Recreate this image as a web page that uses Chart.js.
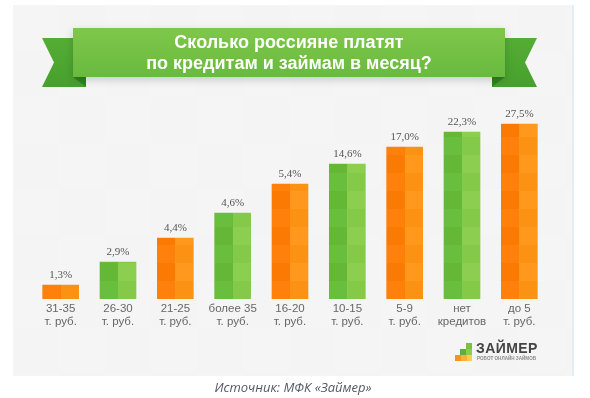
<!DOCTYPE html>
<html>
<head>
<meta charset="utf-8">
<script src="https://cdn.jsdelivr.net/npm/chart.js@4/dist/chart.umd.min.js"></script>
<style>
  html, body { margin: 0; padding: 0; background: #ffffff; }
  #wrap { position: relative; width: 590px; height: 398px; overflow: hidden; }
  #chart { position: absolute; left: 0; top: 0; }
  #title {
    position: absolute; left: 73px; top: 28px; width: 432px; height: 49px;
    display: flex; align-items: center; justify-content: center; text-align: center;
    font: bold 18px "Liberation Sans", Arial, sans-serif; line-height: 21px; color: #ffffff;
  }
  #logo { position: absolute; left: 476px; top: 340px; color: #444; font: bold 14px "Liberation Sans", Arial, sans-serif; letter-spacing: 0.4px; }
  #logosub { position: absolute; left: 477px; top: 356px; color: #8a8a8a; font: bold 4.6px "Liberation Sans", Arial, sans-serif; white-space: nowrap; }
  #caption {
    position: absolute; left: 0; width: 586px; top: 378px; text-align: center;
    font: italic 13px "Open Sans", "Liberation Sans", sans-serif; color: #555a66;
  }
</style>
</head>
<body>
<div id="wrap">
  <canvas id="chart" width="590" height="398"></canvas>
  <div id="title">Сколько россияне платят<br>по кредитам и займам в месяц?</div>
  <div id="logo">ЗАЙМЕР</div>
  <div id="logosub">РОБОТ ОНЛАЙН ЗАЙМОВ</div>
  <div id="caption">Источник: МФК «Займер»</div>
</div>
<script>
// ---- data ----
const categories = [
  ['31-35', 'т. руб.'], ['26-30', 'т. руб.'], ['21-25', 'т. руб.'],
  ['более 35', 'т. руб.'], ['16-20', 'т. руб.'], ['10-15', 'т. руб.'],
  ['5-9', 'т. руб.'], ['нет', 'кредитов'], ['до 5', 'т. руб.']
];
// printed shares, %
const shares = [1.3, 2.9, 4.4, 4.6, 5.4, 14.6, 17.0, 22.3, 27.5];
// drawn bar heights as read off the infographic (illustrative staircase, arbitrary units)
const barLevels = [14, 37, 61, 86, 115, 135, 152, 167, 175];

const BAR_W = 36;

function barFill(ctx) {
  const chart = ctx.chart;
  const orange = ctx.dataIndex % 2 === 0;
  const dark = orange ? '#ff7d04' : '#66bc37';
  const light = orange ? '#ff9514' : '#88cd4a';
  const xs = chart.scales && chart.scales.x;
  if (!xs || ctx.type !== 'data' || !isFinite(xs.getPixelForValue(ctx.dataIndex))) return dark;
  const cx = xs.getPixelForValue(ctx.dataIndex);
  const g = chart.ctx.createLinearGradient(cx - BAR_W / 2, 0, cx + BAR_W / 2, 0);
  g.addColorStop(0, dark);
  g.addColorStop(0.5, dark);
  g.addColorStop(0.5, light);
  g.addColorStop(1, light);
  return g;
}

const backdrop = {
  id: 'backdrop',
  beforeDraw(chart) {
    const c = chart.ctx;
    c.save();
    c.fillStyle = '#ffffff';
    c.fillRect(0, 0, 590, 398);
    // infographic panel
    c.fillStyle = '#f4f4f4';
    c.fillRect(13, 5, 560, 371);
    // very faint tiles
    for (let ty = 5; ty < 376; ty += 46) {
      for (let tx = 13; tx < 573; tx += 46) {
        if ((((tx - 13) / 46) + ((ty - 5) / 46)) % 2 === 0) {
          c.fillStyle = 'rgba(255,255,255,0.13)';
          c.fillRect(tx, ty, Math.min(46, 573 - tx), Math.min(46, 376 - ty));
        }
      }
    }
    c.fillStyle = '#e4edf6';
    c.fillRect(572, 5, 2, 371);

    // ribbon tails
    const tailG = c.createLinearGradient(0, 38, 0, 87);
    tailG.addColorStop(0, '#55ad35');
    tailG.addColorStop(1, '#46a02c');
    c.fillStyle = tailG;
    c.beginPath();
    c.moveTo(42, 38); c.lineTo(86, 38); c.lineTo(86, 87); c.lineTo(42, 87); c.lineTo(54, 62.5);
    c.closePath(); c.fill();
    c.beginPath();
    c.moveTo(492, 38); c.lineTo(537, 38); c.lineTo(525, 62.5); c.lineTo(537, 87); c.lineTo(492, 87);
    c.closePath(); c.fill();
    // folds
    c.fillStyle = '#2f8420';
    c.beginPath(); c.moveTo(73, 77); c.lineTo(86, 77); c.lineTo(86, 87); c.closePath(); c.fill();
    c.beginPath(); c.moveTo(505, 77); c.lineTo(492, 77); c.lineTo(492, 87); c.closePath(); c.fill();
    // main band
    c.shadowColor = 'rgba(0,0,0,0.18)';
    c.shadowBlur = 8;
    c.shadowOffsetY = 3;
    const mainG = c.createLinearGradient(0, 28, 0, 77);
    mainG.addColorStop(0, '#7fc74a');
    mainG.addColorStop(1, '#68ba3f');
    c.fillStyle = mainG;
    c.fillRect(73, 28, 432, 49);
    c.shadowColor = 'transparent';

    // logo squares
    c.fillStyle = '#7ac143'; c.fillRect(466, 343, 6, 6);
    c.fillStyle = '#5eb03a'; c.fillRect(460, 349, 6, 6);
    c.fillStyle = '#8dcc50'; c.fillRect(466, 349, 6, 6);
    c.fillStyle = '#f7931e'; c.fillRect(455, 355, 6, 6);
    c.fillStyle = '#fbb03b'; c.fillRect(461, 355, 6, 6);
    c.fillStyle = '#ffcc4d'; c.fillRect(467, 355, 5, 6);
    c.restore();
  }
};

const barDecor = {
  id: 'barDecor',
  afterDatasetsDraw(chart) {
    const c = chart.ctx;
    const meta = chart.getDatasetMeta(0);
    c.save();
    meta.data.forEach((bar, i) => {
      const left = bar.x - bar.width / 2;
      const top = bar.y;
      const bottom = bar.base;
      // very subtle checker cells
      let row = 0;
      for (let y = bottom; y > top; y -= 18, row++) {
        const h = Math.min(18, y - top);
        c.fillStyle = row % 2 === 0 ? 'rgba(255,255,255,0.03)' : 'rgba(0,0,0,0.02)';
        c.fillRect(left, y - h, bar.width / 2, h);
        c.fillStyle = row % 2 === 0 ? 'rgba(0,0,0,0.015)' : 'rgba(255,255,255,0.035)';
        c.fillRect(left + bar.width / 2, y - h, bar.width / 2, h);
      }
      // value label
      c.fillStyle = '#555555';
      c.font = '11px "Liberation Serif", "Times New Roman", serif';
      c.textAlign = 'center';
      c.textBaseline = 'middle';
      c.fillText(shares[i].toFixed(1).replace('.', ',') + '%', bar.x, top - 10);
    });
    c.restore();
  }
};

new Chart(document.getElementById('chart'), {
  type: 'bar',
  data: {
    labels: categories,
    datasets: [{
      data: barLevels,
      backgroundColor: barFill,
      borderWidth: 0,
      barThickness: BAR_W
    }]
  },
  options: {
    responsive: false,
    animation: false,
    events: [],
    layout: { padding: { left: 32, right: 42, top: 99, bottom: 0 } },
    plugins: { legend: { display: false }, tooltip: { enabled: false }, title: { display: false } },
    scales: {
      x: {
        offset: true,
        grid: { display: false, drawTicks: false },
        border: { display: false },
        afterFit(scale) { scale.height = 99; },
        ticks: {
          autoSkip: false, maxRotation: 0, padding: 3,
          color: '#666666',
          font: { family: '"Liberation Sans", Arial, sans-serif', size: 11.5, lineHeight: 1.13 }
        }
      },
      y: { display: false, min: 0, max: 200 }
    }
  },
  plugins: [backdrop, barDecor]
});
</script>
</body>
</html>
